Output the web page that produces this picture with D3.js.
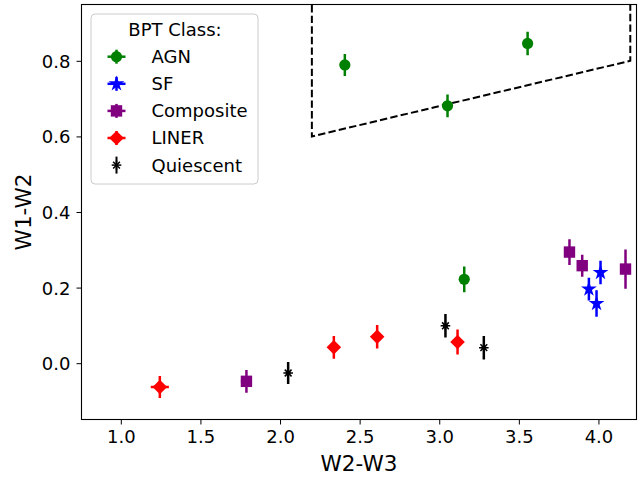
<!DOCTYPE html>
<html><head><meta charset="utf-8">
<script src="https://cdn.jsdelivr.net/npm/d3@7"></script>
<style>body{margin:0;background:#fff}svg{display:block}text{font-family:"DejaVu Sans",sans-serif;fill:#000}</style>
</head><body><svg id="c" width="644" height="478"></svg>
<script>
// ---- data ----
const classes = ["AGN", "SF", "Composite", "LINER", "Quiescent"];
const colors = ["green", "blue", "purple", "red", "black"];
const agnX = [2.407, 3.052, 3.555, 3.157];
const agnY = [0.789, 0.681, 0.846, 0.222];
const agnYerr = [0.029, 0.030, 0.031, 0.034];
const agnXerr = [0.02, 0.02, 0.02, 0.02];
const sfX = [4.013, 3.940, 3.988];
const sfY = [0.240, 0.196, 0.158];
const sfYerr = [0.031, 0.030, 0.035];
const sfXerr = [0.02, 0.02, 0.02];
const compX = [3.818, 3.898, 4.170, 1.789];
const compY = [0.294, 0.258, 0.249, -0.048];
const compYerr = [0.034, 0.029, 0.052, 0.030];
const compXerr = [0.03, 0.03, 0.03, 0.035];
const linerX = [1.245, 2.338, 2.610, 3.115];
const linerY = [-0.063, 0.042, 0.070, 0.056];
const linerYerr = [0.029, 0.030, 0.031, 0.033];
const linerXerr = [0.057, 0.03, 0.03, 0.03];
const quiX = [2.051, 3.039, 3.280];
const quiY = [-0.026, 0.099, 0.041];
const quiYerr = [0.029, 0.031, 0.031];
const quiXerr = [0.015, 0.015, 0.015];
// AGN wedge (Mateos et al.) boundary
const wedgeX = [2.2, 2.2, 4.2, 4.2];
const wedgeY = [1.2, 0.6, 0.8, 1.2];
const xTicks = [1.0, 1.5, 2.0, 2.5, 3.0, 3.5, 4.0];
const yTicks = [0.0, 0.2, 0.4, 0.6, 0.8];
const xLabel = "W2-W3", yLabel = "W1-W2", legendTitle = "BPT Class:";

const series = [
  {x: agnX, y: agnY, xe: agnXerr, ye: agnYerr, shape: "circle"},
  {x: sfX, y: sfY, xe: sfXerr, ye: sfYerr, shape: "star"},
  {x: compX, y: compY, xe: compXerr, ye: compYerr, shape: "square"},
  {x: linerX, y: linerY, xe: linerXerr, ye: linerYerr, shape: "diamond"},
  {x: quiX, y: quiY, xe: quiXerr, ye: quiYerr, shape: "asterisk"}
];

// ---- layout ----
const L = 81.5, T = 4.5, R = 636.5, B = 419.5;
const svg = d3.select("#c");
const x = d3.scaleLinear().domain([0.753, 4.239]).range([L, R]);
const y = d3.scaleLinear().domain([-0.149, 0.949]).range([B, T]);

svg.append("defs").append("clipPath").attr("id", "clip")
  .append("rect").attr("x", L).attr("y", T).attr("width", R - L).attr("height", B - T);

// axes
const xAxis = svg.append("g").attr("transform", `translate(0,${B})`)
  .call(d3.axisBottom(x).tickValues(xTicks).tickFormat(d3.format(".1f")).tickSize(5).tickPadding(6));
const yAxis = svg.append("g").attr("transform", `translate(${L},0)`)
  .call(d3.axisLeft(y).tickValues(yTicks).tickFormat(d3.format(".1f")).tickSize(5).tickPadding(6));
[xAxis, yAxis].forEach(g => {
  g.select(".domain").remove();
  g.selectAll("line").attr("stroke", "#000").attr("stroke-width", 1);
  g.selectAll("text").attr("font-size", 18).attr("font-family", "DejaVu Sans, sans-serif").attr("fill", "#000");
});
xAxis.selectAll("text").attr("dy", "0.71em");
yAxis.selectAll("text").attr("dy", "0.36em");

// dashed wedge
const plot = svg.append("g").attr("clip-path", "url(#clip)");
plot.append("path")
  .attr("d", d3.line().x(d => x(d[0])).y(d => y(d[1]))(wedgeX.map((v, i) => [v, wedgeY[i]])))
  .attr("fill", "none").attr("stroke", "#000").attr("stroke-width", 2).attr("stroke-dasharray", "7.4,3.2");

// marker shapes
function starPath(r) {
  const pts = [];
  for (let i = 0; i < 10; i++) {
    const rr = i % 2 === 0 ? r : r * 0.381966;
    const a = -Math.PI / 2 + i * Math.PI / 5;
    pts.push([rr * Math.cos(a), rr * Math.sin(a)]);
  }
  return "M" + pts.map(p => p.join(",")).join("L") + "Z";
}
function drawMarker(g, shape, color) {
  if (shape === "circle") g.append("circle").attr("r", 5.6).attr("fill", color);
  else if (shape === "square") g.append("rect").attr("x", -5.7).attr("y", -5.7).attr("width", 11.4).attr("height", 11.4).attr("fill", color);
  else if (shape === "diamond") g.append("path").attr("d", "M0,-7.3L7.3,0L0,7.3L-7.3,0Z").attr("fill", color);
  else if (shape === "star") g.append("path").attr("d", starPath(8.3)).attr("fill", color);
  else if (shape === "asterisk") {
    [0, 45, 90, 135].forEach(a => {
      const r = 4.8, c = Math.cos(a * Math.PI / 180) * r, s = Math.sin(a * Math.PI / 180) * r;
      g.append("line").attr("x1", -c).attr("y1", -s).attr("x2", c).attr("y2", s)
        .attr("stroke", color).attr("stroke-width", 1.5);
    });
  }
}

// points with error bars
series.forEach((s, k) => {
  const col = colors[k];
  s.x.forEach((xv, i) => {
    const g = plot.append("g");
    g.append("line").attr("x1", x(xv - s.xe[i])).attr("x2", x(xv + s.xe[i]))
      .attr("y1", y(s.y[i])).attr("y2", y(s.y[i])).attr("stroke", col).attr("stroke-width", 2.5);
    g.append("line").attr("x1", x(xv)).attr("x2", x(xv))
      .attr("y1", y(s.y[i] - s.ye[i])).attr("y2", y(s.y[i] + s.ye[i])).attr("stroke", col).attr("stroke-width", 2.5);
    const m = g.append("g").attr("transform", `translate(${x(xv)},${y(s.y[i])})`);
    drawMarker(m, s.shape, col);
  });
});

// frame
svg.append("rect").attr("x", L).attr("y", T).attr("width", R - L).attr("height", B - T)
  .attr("fill", "none").attr("stroke", "#000").attr("stroke-width", 1.1);

// axis labels
svg.append("text").attr("x", (L + R) / 2).attr("y", 471).attr("text-anchor", "middle")
  .attr("font-size", 21.5).text(xLabel);
svg.append("text").attr("transform", `translate(31,${(T + B) / 2}) rotate(-90)`).attr("text-anchor", "middle")
  .attr("font-size", 21.5).text(yLabel);

// legend
const lg = svg.append("g");
lg.append("rect").attr("x", 91).attr("y", 14).attr("width", 167).attr("height", 170).attr("rx", 4)
  .attr("fill", "rgba(255,255,255,0.8)").attr("stroke", "#cccccc").attr("stroke-width", 1);
lg.append("text").attr("x", 175).attr("y", 36).attr("text-anchor", "middle").attr("font-size", 18).text(legendTitle);
classes.forEach((c, k) => {
  const cy = 56.7 + k * 27.1;
  const g = lg.append("g").attr("transform", `translate(116.5,${cy})`);
  const q = series[k].shape === "asterisk";
  if (!q) g.append("line").attr("x1", -9).attr("x2", 9).attr("stroke", colors[k]).attr("stroke-width", 2.5);
  g.append("line").attr("y1", q ? -8.5 : -7).attr("y2", q ? 8.5 : 7).attr("stroke", colors[k]).attr("stroke-width", q ? 2 : 2.5);
  drawMarker(g, series[k].shape, colors[k]);
  lg.append("text").attr("x", 151.5).attr("y", cy).attr("dy", "0.36em").attr("font-size", 18).text(c);
});
</script></body></html>
